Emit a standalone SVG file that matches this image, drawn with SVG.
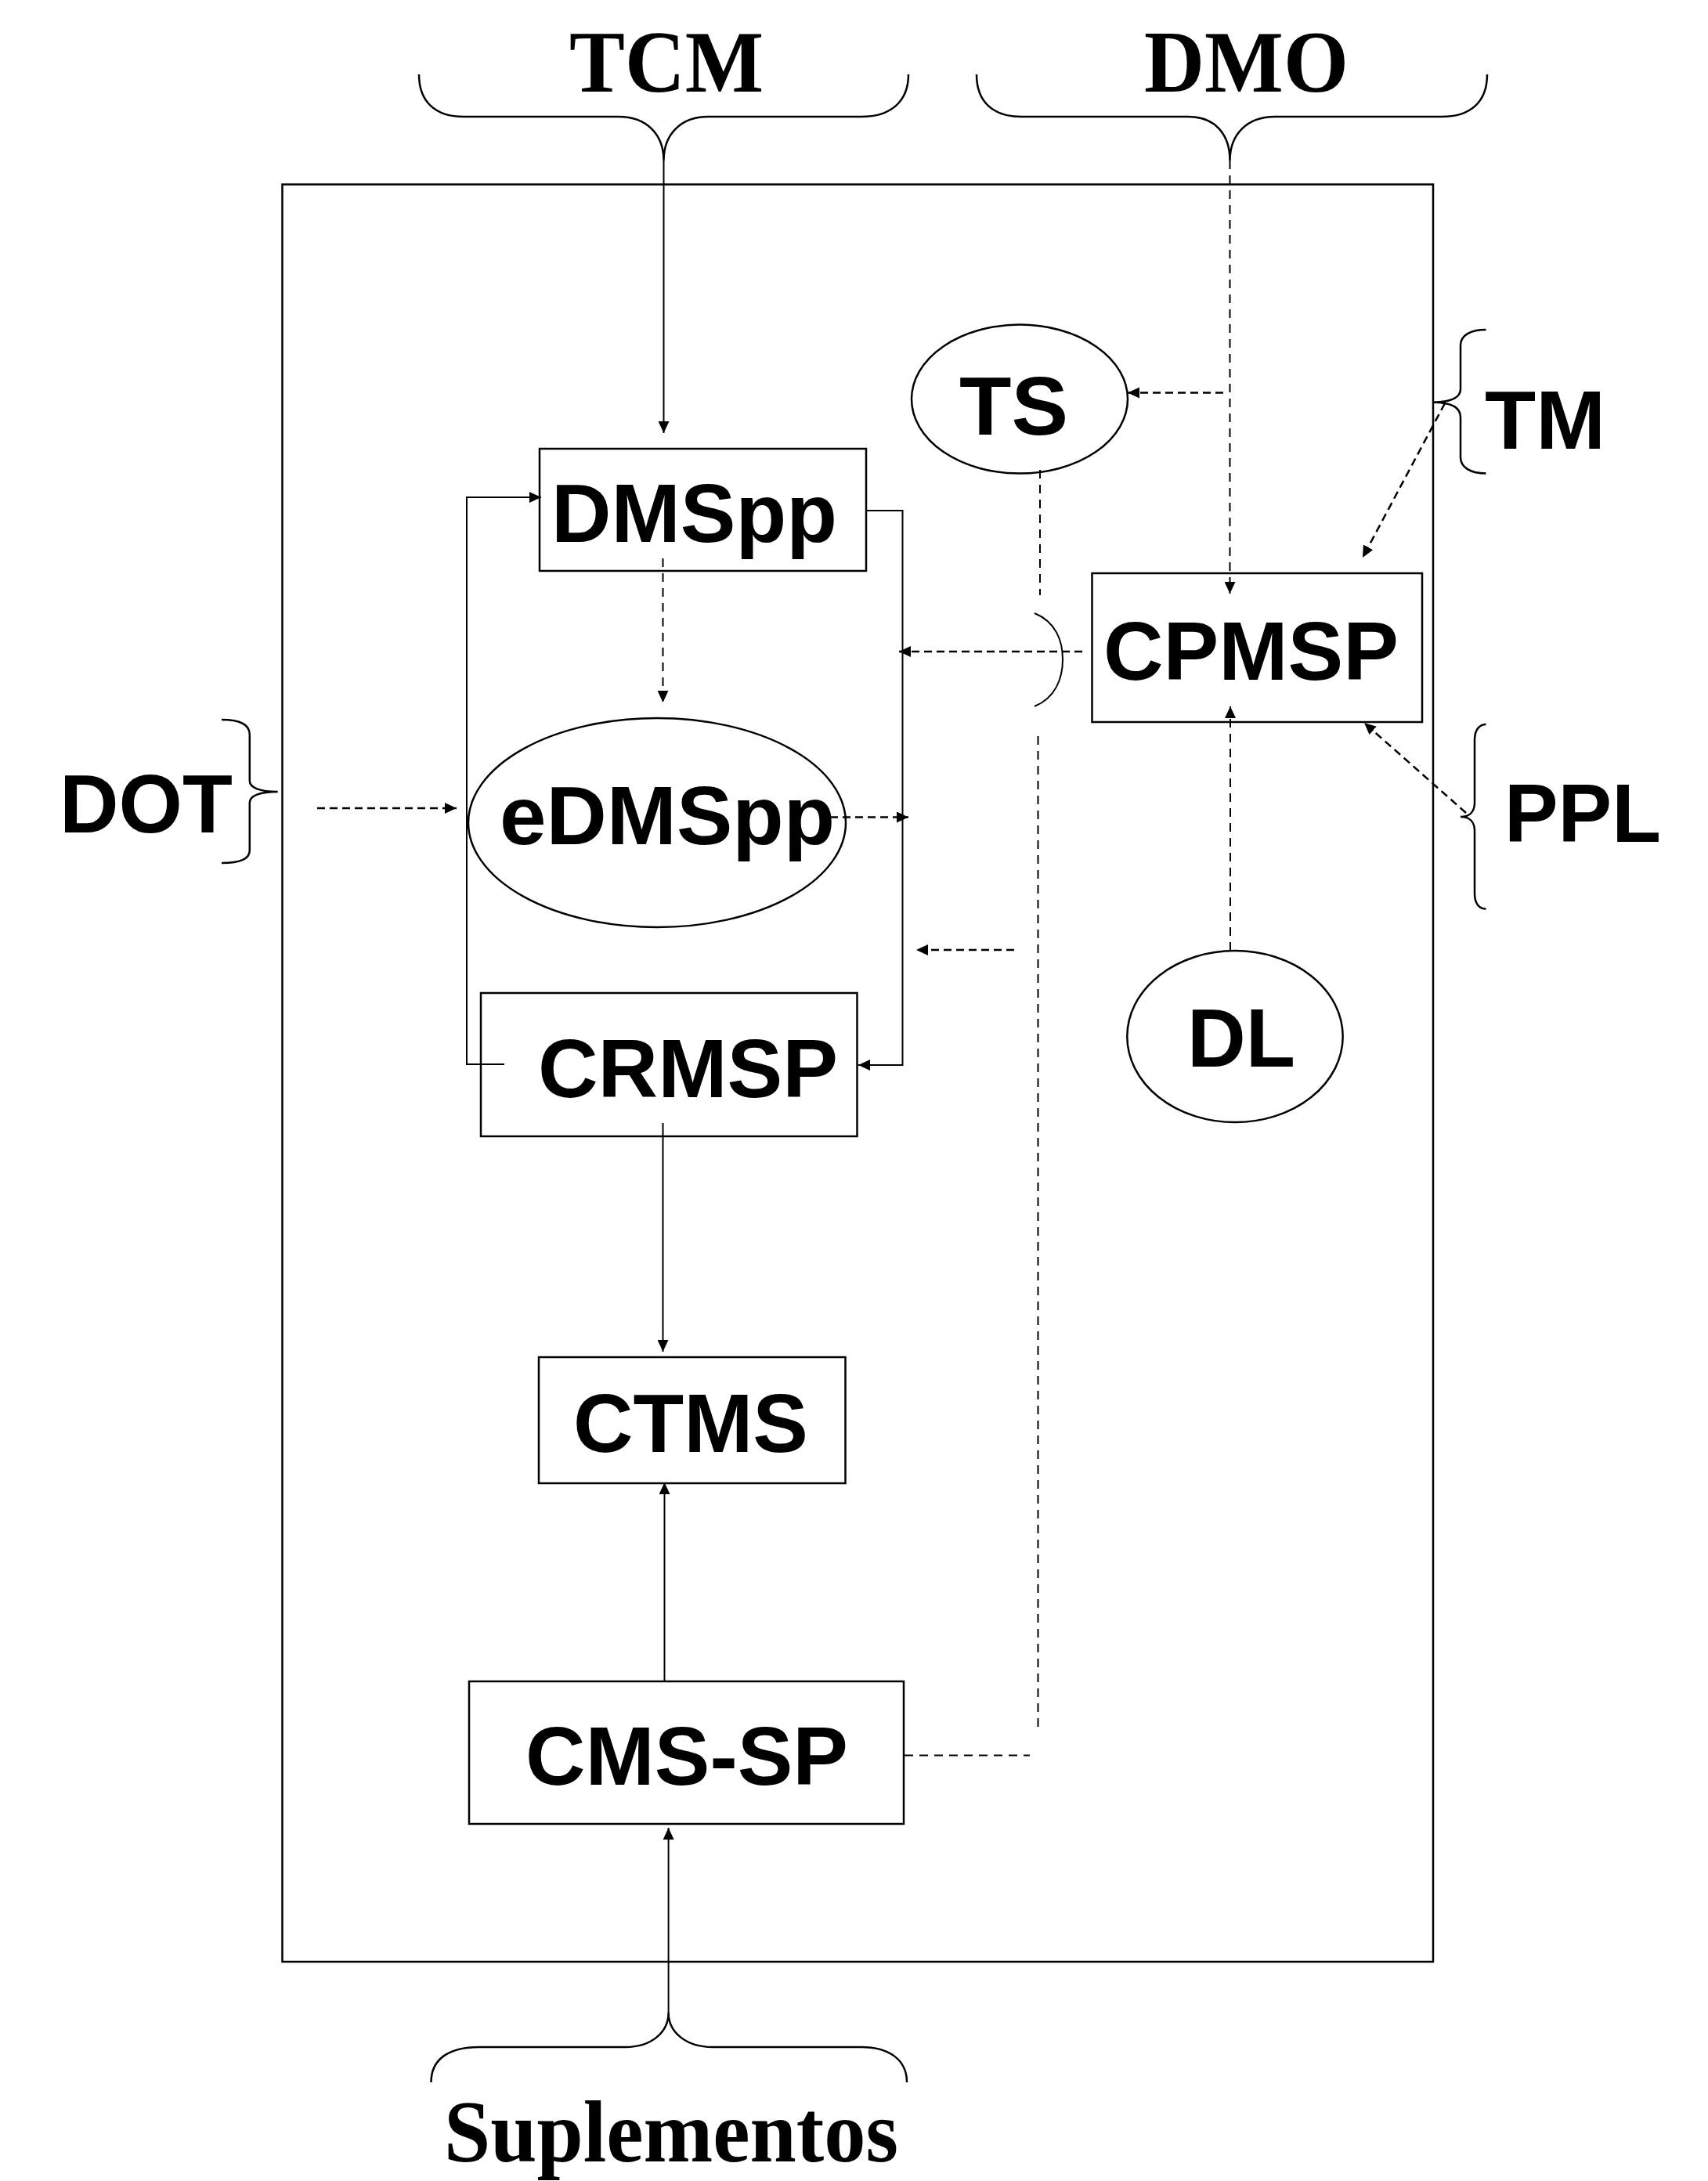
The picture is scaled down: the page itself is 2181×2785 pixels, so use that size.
<svg xmlns="http://www.w3.org/2000/svg" width="2181" height="2785" viewBox="0 0 2181 2785">
  <style>
    .bg { fill: #ffffff; }
    .frame { fill: none; stroke: #000; stroke-width: 2.5; }
    .box { fill: none; stroke: #000; stroke-width: 2.5; }
    .oval { fill: none; stroke: #000; stroke-width: 2.5; }
    .lbl { font-family: "Liberation Sans", Arial, sans-serif; font-weight: bold; font-size: 106px; fill: #000; }
    .head { font-family: "Liberation Serif", "Times New Roman", serif; font-weight: bold; font-size: 112px; fill: #000; }
    .brace { fill: none; stroke: #000; stroke-width: 2.5; }
    .solid { fill: none; stroke: #000; stroke-width: 2; }
    .dash { fill: none; stroke: #000; stroke-width: 2; stroke-dasharray: 11 8; }
    .dashb { fill: none; stroke: #000; stroke-width: 2.5; stroke-dasharray: 10 6; }
  </style>
  <defs>
    <marker id="arrow" markerUnits="userSpaceOnUse" markerWidth="16" markerHeight="14" refX="15" refY="7" orient="auto">
      <path d="M0,0 L15,7 L0,14 Z" fill="#000"/>
    </marker>
  </defs>

  <rect class="bg" x="0" y="0" width="2181" height="2785"/>

  <!-- system boundary -->
  <rect id="frame" class="frame" x="360.5" y="235.5" width="1469.5" height="2269.5"/>

  <!-- external inputs: braces and their labels -->
  <g id="TCM">
    <path class="brace" d="M535,95 C535,130 556,149 592,149 L790,149 C826,149 847.5,172 847.5,205 C847.5,172 869,149 904,149 L1100,149 C1137,149 1160,130 1160,95"/>
    <text class="head" x="727" y="117" textLength="248" lengthAdjust="spacingAndGlyphs">TCM</text>
  </g>
  <g id="DMO">
    <path class="brace" d="M1247,95 C1247,130 1268,149 1304,149 L1517,149 C1552,149 1570.5,172 1570.5,205 C1570.5,172 1592,149 1628,149 L1841,149 C1878,149 1899,130 1899,95"/>
    <text class="head" x="1461" y="117" textLength="261" lengthAdjust="spacingAndGlyphs">DMO</text>
  </g>
  <g id="TM">
    <path class="brace" d="M1897.5,421 C1878,421 1865,428 1865,441 L1865,497 C1865,508 1852,513.7 1830,513.7 C1852,513.7 1865,520 1865,533 L1865,584 C1865,597 1878,604.5 1897.5,604.5"/>
    <text class="lbl" x="1896" y="573" textLength="154" lengthAdjust="spacingAndGlyphs">TM</text>
  </g>
  <g id="PPL">
    <path class="brace" d="M1897.5,925 C1889,925 1883,932 1883,945 L1883,1025 C1883,1036 1877,1043 1865,1043 C1877,1043 1883,1050 1883,1061 L1883,1141 C1883,1154 1889,1160.6 1897.5,1160.6"/>
    <text class="lbl" x="1921" y="1075" textLength="200" lengthAdjust="spacingAndGlyphs">PPL</text>
  </g>
  <g id="DOT">
    <path class="brace" d="M283,919 C305,919 318.8,925 318.8,938 L318.8,997 C318.8,1006 332,1011 354.7,1011 C332,1011 318.8,1016 318.8,1025 L318.8,1086 C318.8,1097 305,1102 283,1102"/>
    <text class="lbl" x="76" y="1063" textLength="221" lengthAdjust="spacingAndGlyphs">DOT</text>
  </g>
  <g id="Suplementos">
    <path class="brace" d="M550.5,2659 C550.5,2630 572,2614 612,2614 L798.5,2614 C832,2614 853.6,2595 853.6,2570 C853.6,2595 876,2614 910,2614 L1100,2614 C1135,2614 1158,2630 1158,2659"/>
    <text class="head" x="567" y="2760" textLength="580" lengthAdjust="spacingAndGlyphs">Suplementos</text>
  </g>

  <!-- connectors -->
  <g id="connectors">
    <path class="solid" d="M847.5,205 L847.5,553" marker-end="url(#arrow)"/>
    <path class="dash" d="M1570.5,205 L1570.5,758" marker-end="url(#arrow)"/>
    <path class="dashb" d="M1562,501.5 L1440,501.5" marker-end="url(#arrow)"/>
    <path class="dashb" d="M1845,515 L1740,712" marker-end="url(#arrow)"/>
    <path class="dashb" d="M1872,1038 L1742,923" marker-end="url(#arrow)"/>
    <path class="dash" d="M1571,1214 L1571,902" marker-end="url(#arrow)"/>
    <path class="dashb" d="M1382,832 L1148,832" marker-end="url(#arrow)"/>
    <path class="solid" d="M1321,783 C1348,794 1357,818 1357,842 C1357,866 1348,891 1321,902"/>
    <path class="dash" d="M1328,600 L1328,760"/>
    <path class="dash" d="M1325.5,940 L1325.5,2210"/>
    <path class="dash" d="M1155,2241.5 L1315,2241.5"/>
    <path class="dash" d="M846.5,713 L846.5,897" marker-end="url(#arrow)"/>
    <path class="dashb" d="M405,1032 L583,1032" marker-end="url(#arrow)"/>
    <path class="dashb" d="M1060,1043.5 L1160,1043.5" marker-end="url(#arrow)"/>
    <path class="dashb" d="M1295,1213 L1170,1213" marker-end="url(#arrow)"/>
    <path class="solid" d="M1106,652 L1152.5,652 L1152.5,1360 L1096,1360" marker-end="url(#arrow)"/>
    <path class="solid" d="M644,1359 L596,1359 L596,635 L691,635" marker-end="url(#arrow)"/>
    <path class="solid" d="M846.5,1434 L846.5,1726" marker-end="url(#arrow)"/>
    <path class="solid" d="M848.5,2146 L848.5,1893" marker-end="url(#arrow)"/>
    <path class="solid" d="M853.6,2570 L853.6,2334" marker-end="url(#arrow)"/>
  </g>

  <!-- process nodes -->
  <g id="DMSpp">
    <rect class="box" x="689" y="573" width="417" height="156"/>
    <text class="lbl" x="704" y="692" textLength="365" lengthAdjust="spacingAndGlyphs">DMSpp</text>
  </g>
  <g id="TS">
    <ellipse class="oval" cx="1302" cy="509.6" rx="138" ry="95"/>
    <text class="lbl" x="1225" y="555" textLength="139" lengthAdjust="spacingAndGlyphs">TS</text>
  </g>
  <g id="CPMSP">
    <rect class="box" x="1394.5" y="732" width="421.5" height="190"/>
    <text class="lbl" x="1409" y="868" textLength="377" lengthAdjust="spacingAndGlyphs">CPMSP</text>
  </g>
  <g id="eDMSpp">
    <ellipse class="oval" cx="839" cy="1050.5" rx="241" ry="133.5"/>
    <text class="lbl" x="638" y="1078" textLength="428" lengthAdjust="spacingAndGlyphs">eDMSpp</text>
  </g>
  <g id="DL">
    <ellipse class="oval" cx="1577" cy="1323.6" rx="137.7" ry="109.5"/>
    <text class="lbl" x="1516" y="1362" textLength="138" lengthAdjust="spacingAndGlyphs">DL</text>
  </g>
  <g id="CRMSP">
    <rect class="box" x="614" y="1268" width="480.5" height="183"/>
    <text class="lbl" x="687" y="1400.5" textLength="383" lengthAdjust="spacingAndGlyphs">CRMSP</text>
  </g>
  <g id="CTMS">
    <rect class="box" x="688" y="1733" width="391.5" height="161"/>
    <text class="lbl" x="732" y="1854" textLength="300" lengthAdjust="spacingAndGlyphs">CTMS</text>
  </g>
  <g id="CMS-SP">
    <rect class="box" x="599" y="2147" width="555" height="182"/>
    <text class="lbl" x="671" y="2279" textLength="412" lengthAdjust="spacingAndGlyphs">CMS-SP</text>
  </g>
</svg>
